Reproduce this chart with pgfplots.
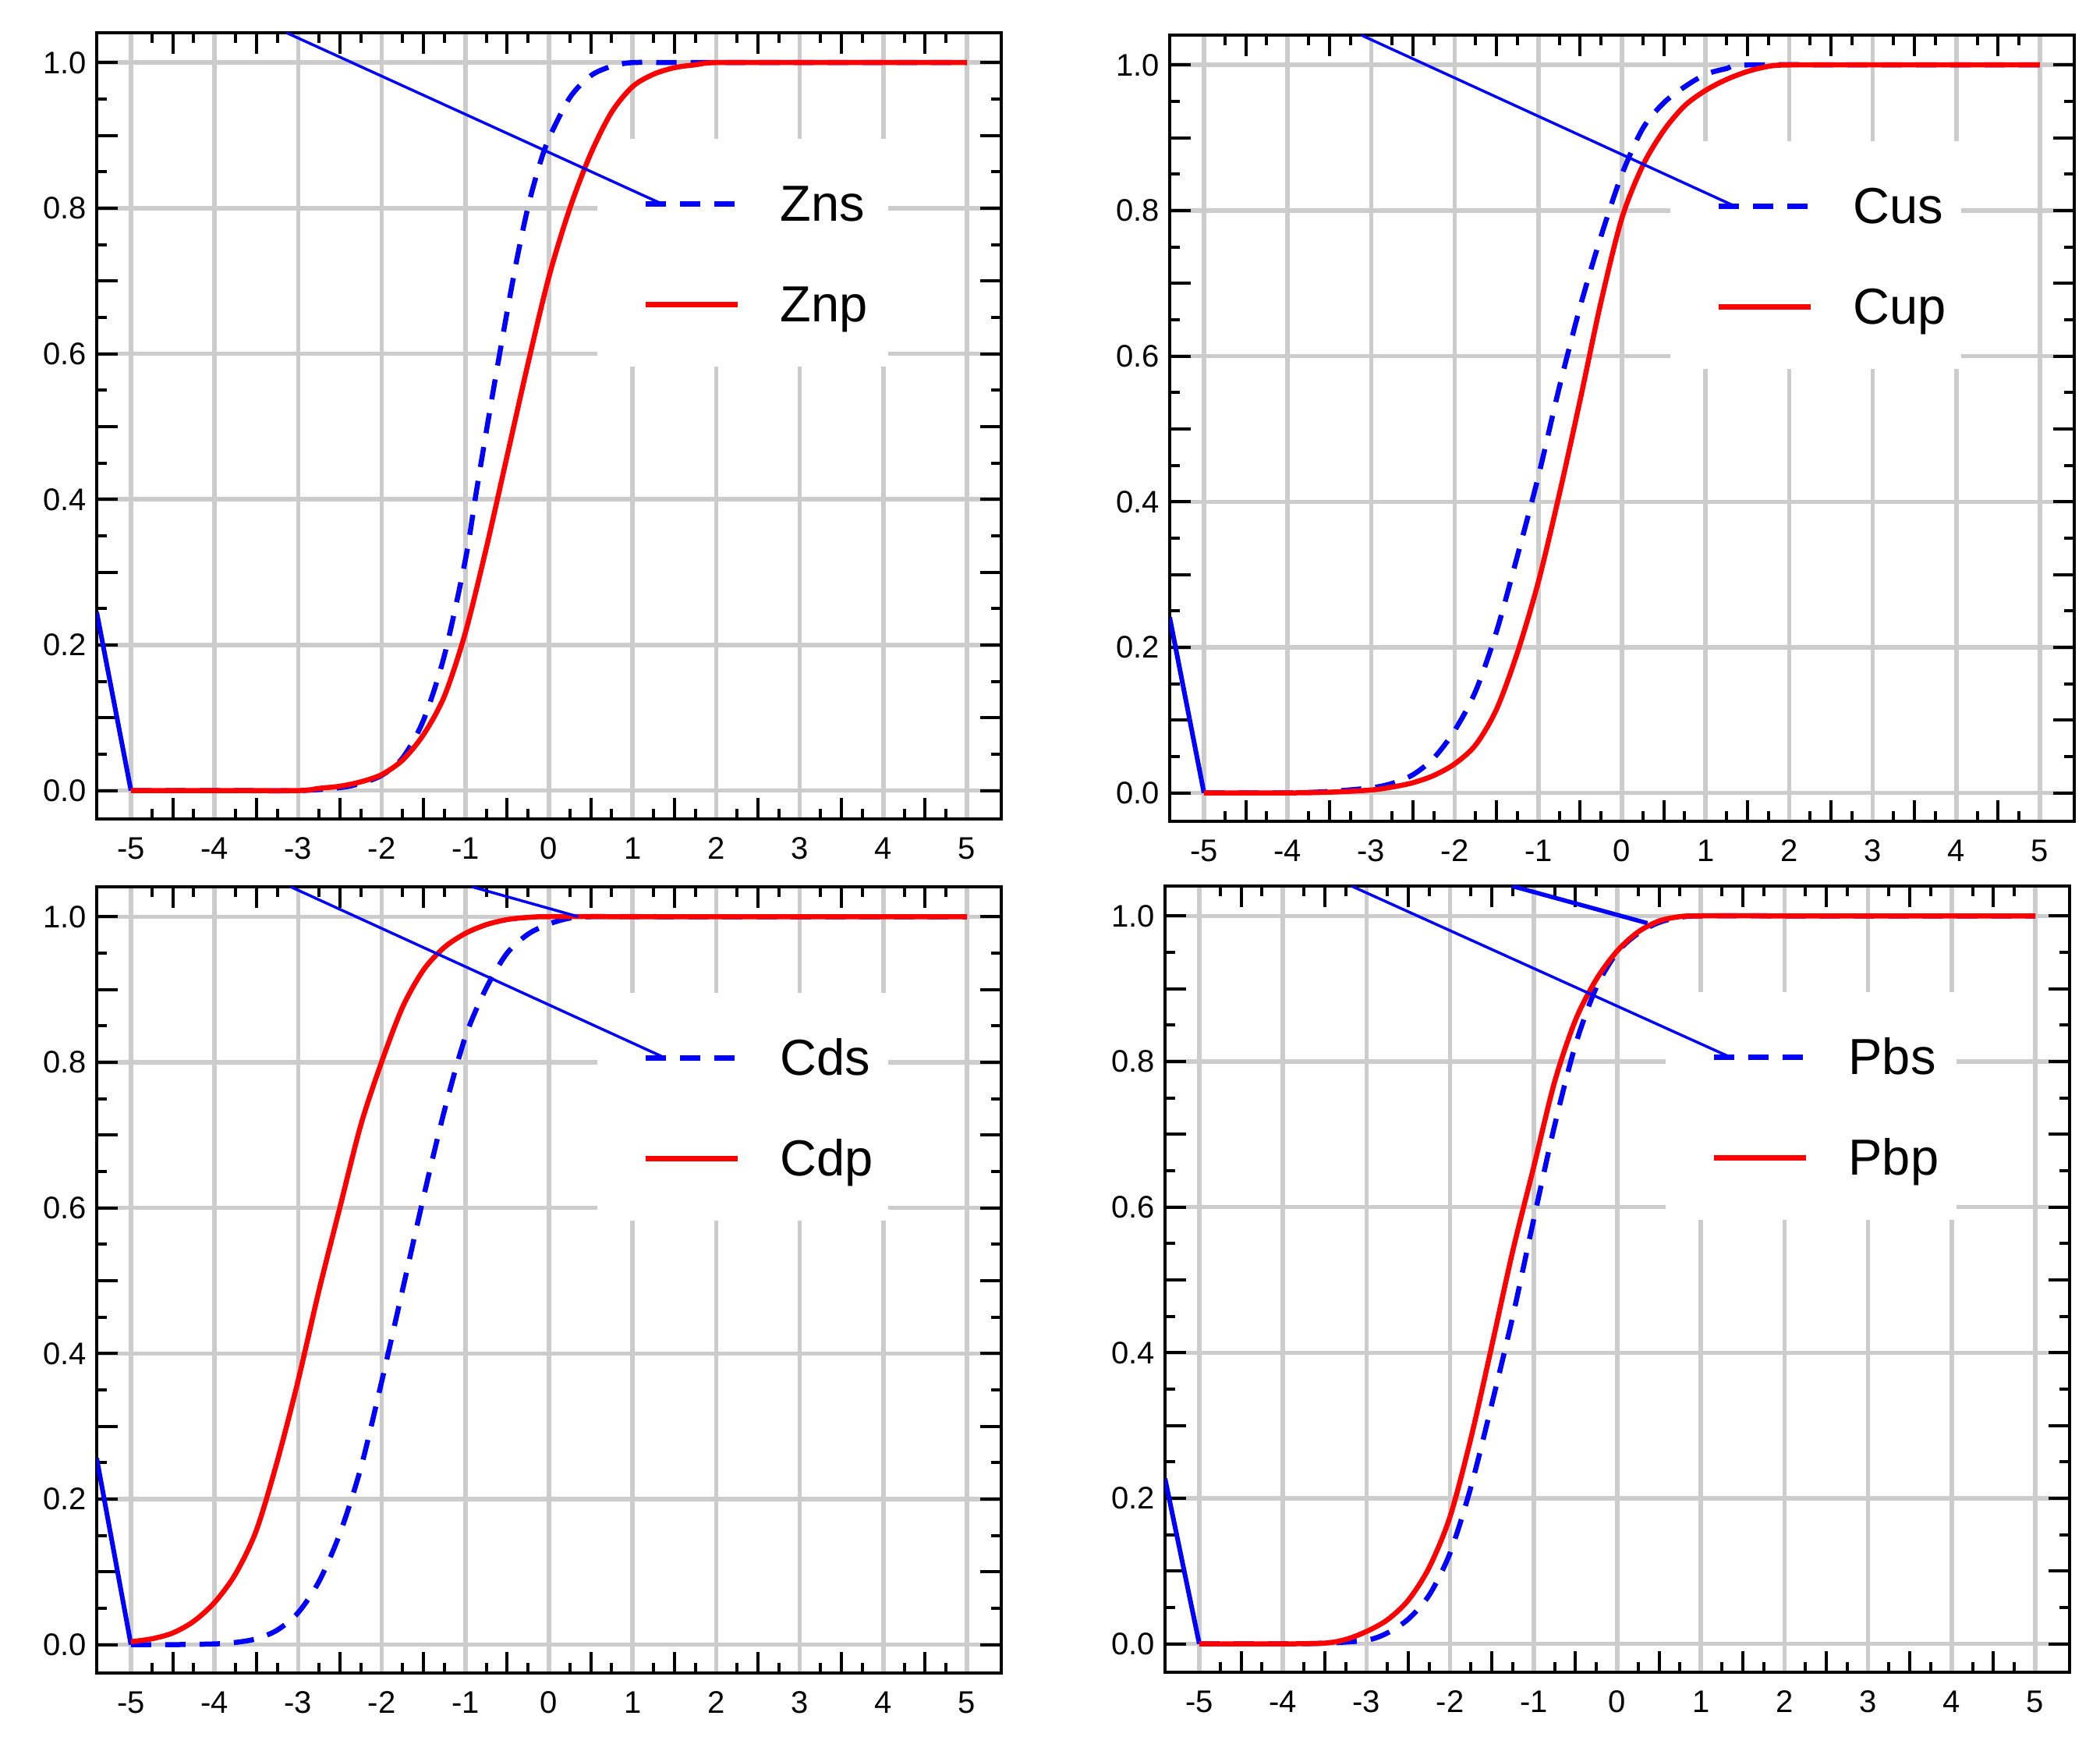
\documentclass[border=0pt]{standalone}
\usepackage{pgfplots}
\pgfplotsset{compat=1.18}
\usepackage{fontspec}
\setmainfont{Liberation Sans}
\definecolor{gridgray}{HTML}{CCCCCC}
\pgfplotsset{
 panel/.style={
  scale only axis, width=232pt, height=201.6pt,
  xmin=-5.41, xmax=5.41, ymin=-0.039, ymax=1.041,
  anchor=south west,
  axis line style={line width=0.9pt},
  xtick={-5,...,5}, ytick={0,0.2,...,1.0},
  grid=major, major grid style={gridgray, line width=1.1pt},
  major tick length=0pt,
  minor xtick={-4.75,-4.25,...,4.75},
  minor ytick={0.05,0.15,...,0.95},
  minor tick length=2.6pt,
  extra x ticks={-4.5,-3.5,...,4.5},
  extra y ticks={0,0.1,...,1.0},
  extra x tick labels={}, extra y tick labels={},
  extra tick style={grid=none, major tick length=5.4pt},
  tick style={black, line width=0.8pt},
  tick label style={font=\fontsize{8}{9}\selectfont, inner sep=0pt},
  /pgf/number format/assume math mode=true,
  xticklabel style={yshift=-4.6pt},
  yticklabel style={xshift=-2.4pt, /pgf/number format/.cd, fixed, fixed zerofill, precision=1},
  legend style={draw=none, fill=none, inner sep=0pt, at={(axis cs:1.12,0.831)}, anchor=north west,
    row sep=16.8pt, font=\fontsize{13}{15}\selectfont,
    nodes={inner sep=0pt, text height=9pt, text depth=0pt},
    /tikz/every odd column/.append style={column sep=10.2pt}},
  legend cell align=left,
  legend image code/.code={\draw[##1] (0pt,0pt) -- (23.6pt,0pt);},
 },
 blueS/.style={blue, line width=1.3pt, dash pattern=on 5.2pt off 3.6pt, smooth, tension=0.5},
 redS/.style={red, line width=1.3pt, smooth, tension=0.5},
 ptr/.style={blue, line width=0.7pt, forget plot},
 lead/.style={blue, line width=1.2pt, forget plot},
 wbox/.style={fill=white, draw=none, forget plot},
}
\begin{document}
\begin{tikzpicture}
\useasboundingbox (0,0) rectangle (538.6pt,447.2pt);
% ---------------- top left: Zn
\begin{axis}[panel, at={(24.8pt,237.2pt)}]
\addplot[wbox] coordinates {(0.58,0.582) (4.06,0.582) (4.06,0.895) (0.58,0.895)} -- cycle;
\addplot[lead] coordinates {(-5.41,0.245) (-5,0)};
\addplot[blueS] coordinates {(-5,0) (-4,0) (-3,0) (-2.5,0.004) (-2.25,0.01) (-2.0,0.021) (-1.75,0.045) (-1.5,0.097) (-1.25,0.186) (-1.0,0.317) (-0.875,0.406) (-0.75,0.493) (-0.625,0.577) (-0.5,0.658) (-0.375,0.735) (-0.25,0.802) (-0.125,0.855) (0,0.896) (0.25,0.952) (0.5,0.982) (0.75,0.995) (1.0,1.0) (1.5,1.0) (3,1.0) (5,1.0)};
\addlegendentry{Zns}
\addplot[redS] coordinates {(-5,0) (-4,0) (-3,0) (-2.75,0.003) (-2.5,0.006) (-2.25,0.012) (-2.0,0.022) (-1.75,0.042) (-1.5,0.077) (-1.25,0.13) (-1.0,0.217) (-0.75,0.333) (-0.5,0.46) (-0.25,0.587) (0,0.706) (0.25,0.8) (0.5,0.875) (0.75,0.932) (1.0,0.967) (1.25,0.984) (1.5,0.993) (1.75,0.997) (2.0,1.0) (3,1.0) (5,1.0)};
\addlegendentry{Znp}
\addplot[ptr] coordinates {(-3.14,1.041) (1.33,0.807)};
\end{axis}
% ---------------- top right: Cu
\begin{axis}[panel, at={(300pt,236.6pt)}]
\addplot[wbox] coordinates {(0.58,0.582) (4.06,0.582) (4.06,0.895) (0.58,0.895)} -- cycle;
\addplot[lead] coordinates {(-5.41,0.241) (-5,0)};
\addplot[blueS] coordinates {(-5,0) (-4,0) (-3.5,0.002) (-3,0.007) (-2.75,0.013) (-2.5,0.025) (-2.25,0.048) (-2.0,0.086) (-1.75,0.14) (-1.5,0.222) (-1.25,0.326) (-1.0,0.435) (-0.75,0.557) (-0.5,0.668) (-0.25,0.765) (0,0.85) (0.25,0.913) (0.5,0.948) (0.75,0.97) (1.0,0.987) (1.25,0.995) (1.5,1.0) (3,1.0) (5,1.0)};
\addlegendentry{Cus}
\addplot[redS] coordinates {(-5,0) (-4,0) (-3.5,0.001) (-3,0.004) (-2.75,0.008) (-2.5,0.014) (-2.25,0.024) (-2.0,0.04) (-1.75,0.066) (-1.5,0.115) (-1.25,0.193) (-1.0,0.29) (-0.75,0.41) (-0.5,0.54) (-0.25,0.675) (0,0.79) (0.25,0.862) (0.5,0.91) (0.75,0.944) (1.0,0.965) (1.25,0.98) (1.5,0.991) (1.75,0.998) (2.0,1.0) (3,1.0) (5,1.0)};
\addlegendentry{Cup}
\addplot[ptr] coordinates {(-3.12,1.041) (1.33,0.807)};
\end{axis}
% ---------------- bottom left: Cd
\begin{axis}[panel, at={(24.8pt,18.2pt)}]
\addplot[wbox] coordinates {(0.58,0.582) (4.06,0.582) (4.06,0.895) (0.58,0.895)} -- cycle;
\addplot[lead] coordinates {(-5.41,0.256) (-5,0)};
\addplot[blueS] coordinates {(-5,0) (-4.5,0) (-4,0.001) (-3.75,0.003) (-3.5,0.008) (-3.25,0.02) (-3.0,0.044) (-2.75,0.087) (-2.5,0.153) (-2.25,0.243) (-2.0,0.362) (-1.75,0.488) (-1.5,0.615) (-1.25,0.734) (-1.0,0.835) (-0.75,0.902) (-0.5,0.95) (-0.25,0.976) (0,0.99) (0.25,0.998) (0.5,1.0) (1.5,1.0) (5,1.0)};
\addlegendentry{Cds}
\addplot[redS] coordinates {(-5,0.004) (-4.75,0.008) (-4.5,0.016) (-4.25,0.032) (-4.0,0.058) (-3.75,0.097) (-3.5,0.157) (-3.25,0.252) (-3.0,0.363) (-2.75,0.487) (-2.5,0.601) (-2.25,0.714) (-2.0,0.801) (-1.75,0.876) (-1.5,0.927) (-1.25,0.958) (-1.0,0.977) (-0.75,0.989) (-0.5,0.996) (-0.25,0.999) (0,1.0) (1,1.0) (5,1.0)};
\addlegendentry{Cdp}
\addplot[ptr] coordinates {(-3.09,1.041) (1.35,0.808)};
\addplot[ptr] coordinates {(-0.92,1.041) (0.35,1.0)};
\end{axis}
% ---------------- bottom right: Pb
\begin{axis}[panel, at={(298.8pt,18.4pt)}]
\addplot[wbox] coordinates {(0.58,0.582) (4.06,0.582) (4.06,0.895) (0.58,0.895)} -- cycle;
\addplot[lead] coordinates {(-5.41,0.227) (-5,0)};
\addplot[blueS] coordinates {(-5,0) (-4,0) (-3.5,0.001) (-3.0,0.005) (-2.75,0.015) (-2.5,0.034) (-2.25,0.067) (-2.0,0.125) (-1.75,0.216) (-1.5,0.33) (-1.25,0.45) (-1.0,0.583) (-0.75,0.712) (-0.5,0.823) (-0.25,0.902) (0,0.95) (0.25,0.976) (0.5,0.991) (0.75,0.998) (1.0,1.0) (2,1.0) (5,1.0)};
\addlegendentry{Pbs}
\addplot[redS] coordinates {(-5,0) (-4,0.0) (-3.5,0.001) (-3.25,0.006) (-3.0,0.017) (-2.75,0.033) (-2.5,0.06) (-2.25,0.105) (-2.0,0.175) (-1.75,0.283) (-1.5,0.41) (-1.25,0.54) (-1.0,0.655) (-0.75,0.772) (-0.5,0.857) (-0.25,0.913) (0,0.952) (0.25,0.978) (0.5,0.993) (0.75,0.999) (1.0,1.0) (2,1.0) (5,1.0)};
\addlegendentry{Pbp}
\addplot[ptr] coordinates {(-3.18,1.041) (1.33,0.807)};
\addplot[blue, line width=1.1pt, forget plot] coordinates {(-1.26,1.041) (0.36,0.99)};
\end{axis}
\end{tikzpicture}
\end{document}
